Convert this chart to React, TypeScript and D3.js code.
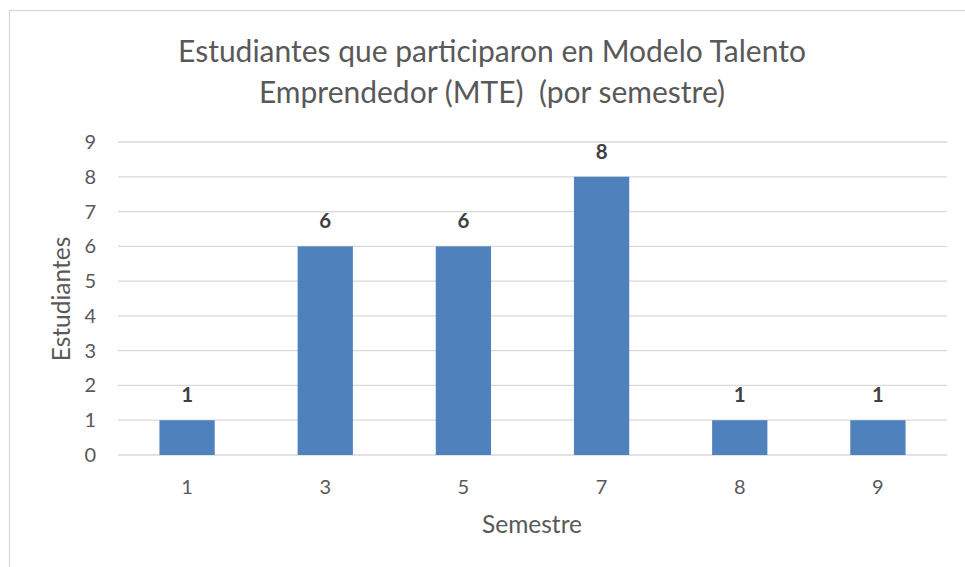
import React from "react";
import * as d3 from "d3";

const categories = ["1", "3", "5", "7", "8", "9"];
const values = [1, 6, 6, 8, 1, 1];
const yTicks = [0, 1, 2, 3, 4, 5, 6, 7, 8, 9];
const titleLines = [
  "Estudiantes que participaron en Modelo Talento",
  "Emprendedor (MTE)  (por semestre)",
];
const xTitle = "Semestre";
const yTitle = "Estudiantes";

export default function App() {
  const W = 965, H = 567;
  const left = 118, right = 947, top = 142, bottom = 455;
  const x = d3.scaleBand<string>().domain(categories).range([left, right]).paddingInner(0.6).paddingOuter(0.3);
  const y = d3.scaleLinear().domain([0, 9]).range([bottom, top]);
  const font = "Lato, 'Open Sans', sans-serif";
  const textColor = "#595959";
  return (
    <svg width={W} height={H} style={{ position: "absolute", left: 0, top: 0 }} fontFamily={font}>
      <rect x={0} y={0} width={W} height={H} fill="#fff" />
      <rect x={9.5} y={10.5} width={W + 10} height={H + 10} fill="#fff" stroke="#d9d9d9" strokeWidth={1.3} />
      {titleLines.map((t, i) => (
        <text key={i} x={492} y={62 + i * 41} textAnchor="middle" fontSize={30} fill={textColor} style={{ whiteSpace: "pre" }}>
          {t}
        </text>
      ))}
      {yTicks.map((t) => (
        <g key={t}>
          <line x1={left} x2={right} y1={y(t)} y2={y(t)} stroke="#d9d9d9" strokeWidth={1.3} />
          <text x={96} y={y(t) + 7} textAnchor="end" fontSize={20} fill={textColor}>
            {t}
          </text>
        </g>
      ))}
      {categories.map((c, i) => (
        <g key={c}>
          <rect x={x(c)} y={y(values[i])} width={x.bandwidth()} height={bottom - y(values[i])} fill="#4f81bd" />
          <text x={(x(c) as number) + x.bandwidth() / 2} y={y(values[i]) - 18} textAnchor="middle" fontSize={20.5} fontWeight="bold" fill="#404040">
            {values[i]}
          </text>
          <text x={(x(c) as number) + x.bandwidth() / 2} y={494} textAnchor="middle" fontSize={20} fill={textColor}>
            {c}
          </text>
        </g>
      ))}
      <text x={532} y={533} textAnchor="middle" fontSize={24.5} fill={textColor}>
        {xTitle}
      </text>
      <text transform={`translate(70,299) rotate(-90)`} textAnchor="middle" fontSize={24.5} fill={textColor}>
        {yTitle}
      </text>
    </svg>
  );
}
